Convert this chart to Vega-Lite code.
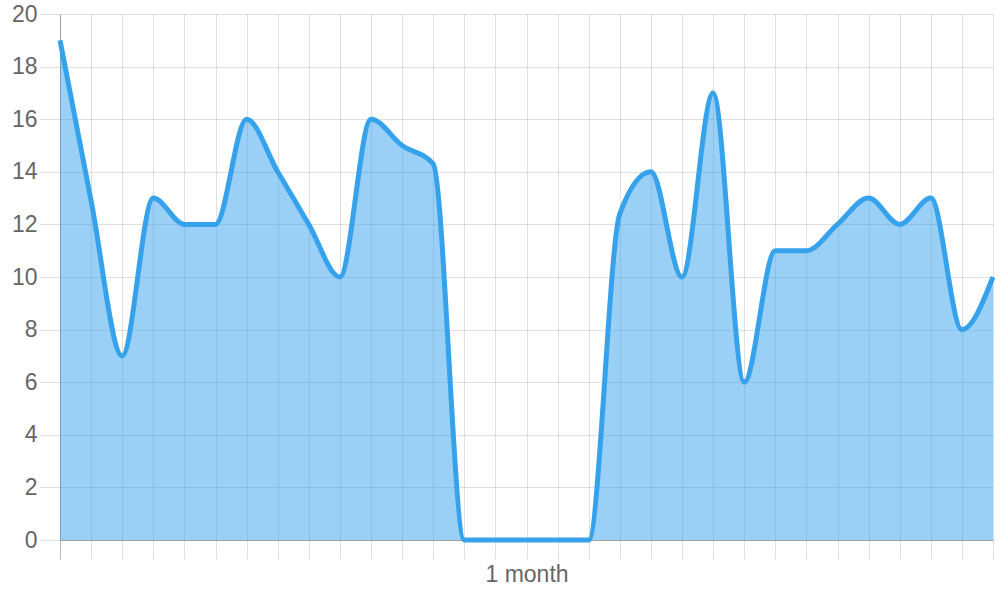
{
  "$schema": "https://vega.github.io/schema/vega-lite/v6.json",
  "width": 933,
  "height": 526,
  "autosize": {"type": "none"},
  "padding": {"left": 60, "top": 14, "right": 7, "bottom": 60},
  "background": "white",
  "config": {
    "view": {"stroke": null},
    "axis": {
      "labelFont": "Liberation Sans",
      "labelFontSize": 23,
      "labelColor": "#666666",
      "gridColor": "#000000",
      "gridOpacity": 0.12,
      "gridWidth": 1,
      "tickColor": "#e0e0e0",
      "domainColor": "#000000",
      "domainOpacity": 0.28,
      "zindex": 1,
      "title": null
    }
  },
  "data": {
    "values": [
      {"i": 0, "v": 19}, {"i": 1, "v": 12.9}, {"i": 2, "v": 7}, {"i": 3, "v": 13},
      {"i": 4, "v": 12}, {"i": 5, "v": 12}, {"i": 6, "v": 16}, {"i": 7, "v": 14},
      {"i": 8, "v": 12}, {"i": 9, "v": 10}, {"i": 10, "v": 16}, {"i": 11, "v": 15},
      {"i": 12, "v": 14.3}, {"i": 13, "v": 0}, {"i": 14, "v": 0}, {"i": 15, "v": 0},
      {"i": 16, "v": 0}, {"i": 17, "v": 0}, {"i": 18, "v": 12.4}, {"i": 19, "v": 14},
      {"i": 20, "v": 10}, {"i": 21, "v": 17}, {"i": 22, "v": 6}, {"i": 23, "v": 11},
      {"i": 24, "v": 11}, {"i": 25, "v": 12}, {"i": 26, "v": 13}, {"i": 27, "v": 12},
      {"i": 28, "v": 13}, {"i": 29, "v": 8}, {"i": 30, "v": 10}
    ]
  },
  "encoding": {
    "x": {
      "field": "i",
      "type": "quantitative",
      "scale": {"domain": [0, 30], "nice": false, "zero": false},
      "axis": {
        "values": [0,1,2,3,4,5,6,7,8,9,10,11,12,13,14,15,16,17,18,19,20,21,22,23,24,25,26,27,28,29,30],
        "labelExpr": "datum.value == 15 ? '1 month' : ''",
        "labelOverlap": false,
        "labelFlush": false,
        "tickSize": 19,
        "labelPadding": 4,
        "tickColor": {"condition": {"test": "datum.value == 0", "value": "#b8b8b8"}, "value": "#e0e0e0"}
      }
    },
    "y": {
      "field": "v",
      "type": "quantitative",
      "scale": {"domain": [0, 20], "nice": false},
      "axis": {"values": [0,2,4,6,8,10,12,14,16,18,20], "tickSize": 20, "labelPadding": 3}
    }
  },
  "layer": [
    {"mark": {"type": "area", "interpolate": "monotone", "color": "#36a2eb", "fillOpacity": 0.5}},
    {"mark": {"type": "line", "interpolate": "monotone", "color": "#36a2eb", "strokeWidth": 5}}
  ]
}
